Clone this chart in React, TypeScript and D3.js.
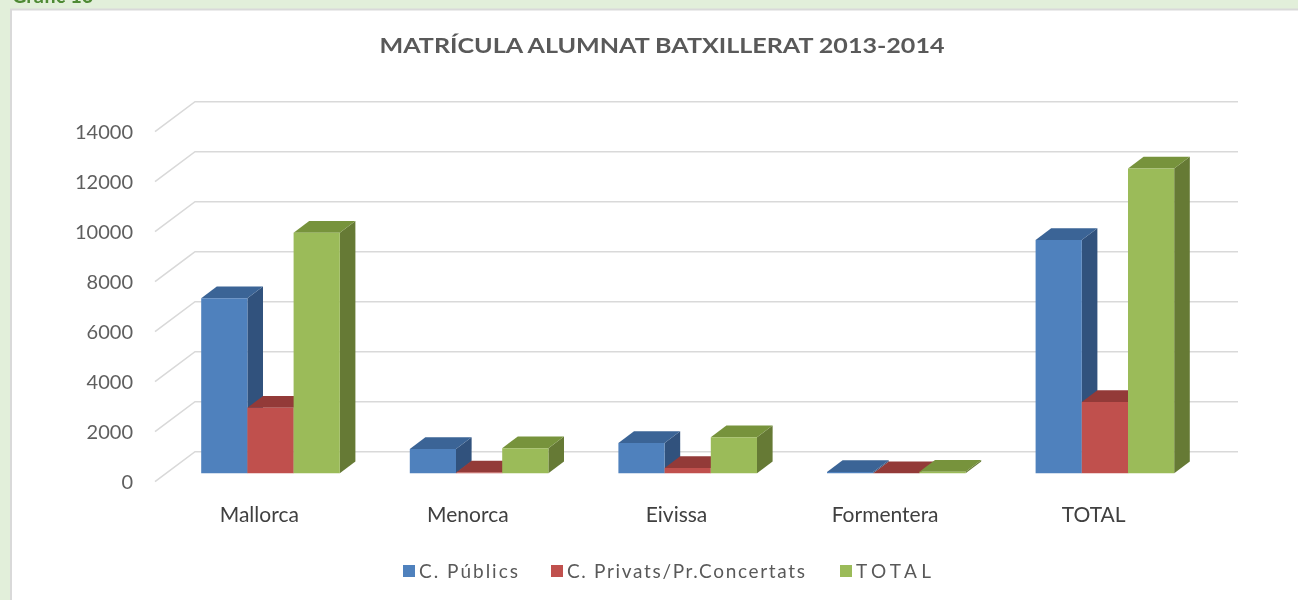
import React, { useEffect, useRef } from 'react';
import * as d3 from 'd3';

const categories = ['Mallorca', 'Menorca', 'Eivissa', 'Formentera', 'TOTAL'];
const seriesNames = ['C. Públics', 'C. Privats/Pr.Concertats', 'TOTAL'];
const publics = [7000, 975, 1215, 55, 9335];
const privats = [2625, 30, 210, 5, 2855];
const totals = [9625, 1005, 1440, 60, 12190];
const yTicks = [0, 2000, 4000, 6000, 8000, 10000, 12000, 14000];

const title = 'MATRÍCULA ALUMNAT BATXILLERAT 2013-2014';

// front, top, side
const palette = [
  ['#4f81bd', '#3b6496', '#31527d'],
  ['#c0504d', '#933a38', '#85322f'],
  ['#9bbb59', '#77933c', '#667a35'],
];

const App = () => {
  const chart = useRef<SVGSVGElement>(null);

  useEffect(() => {
    const width = 1298;
    const height = 600;
    const svg = d3.select(chart.current);
    svg.selectAll('*').remove();

    svg.append('rect').attr('width', width).attr('height', height).attr('fill', '#e2efda');
    svg
      .append('text')
      .attr('x', 12)
      .attr('y', 3)
      .text('Gràfic 16')
      .style('font-family', 'Lato')
      .style('font-size', 20)
      .style('font-weight', 'bold')
      .attr('fill', '#4e8a34');
    svg
      .append('rect')
      .attr('x', 11)
      .attr('y', 9.5)
      .attr('width', width)
      .attr('height', height)
      .attr('fill', '#fff')
      .attr('stroke', '#d9d9d9')
      .attr('stroke-width', 2);

    // 3d layout: front plane + depth vector
    const x0 = 155;
    const x1 = 1198;
    const DX = 40;
    const DY = -30;
    const t0 = 0.28;
    const t1 = 0.67;

    const y = d3.scaleLinear().domain([0, 14000]).range([481.7, 131.7]);
    const xBand = d3.scaleBand().domain(categories).range([x0, x1]);
    const xInner = d3
      .scaleBand()
      .domain(seriesNames)
      .range([35, xBand.bandwidth() - 35]);

    const proj = (px, v, t) => [px + DX * t, y(v) + DY * t];
    const line = d3.line();

    // gridlines
    svg
      .append('g')
      .selectAll('path')
      .data(yTicks)
      .enter()
      .append('path')
      .attr('d', (v) => line([proj(x0, v, 0), proj(x0, v, 1), proj(x1, v, 1)]))
      .attr('fill', 'none')
      .attr('stroke', '#d9d9d9')
      .attr('stroke-width', 1.6);

    svg
      .append('g')
      .selectAll('text')
      .data(yTicks)
      .enter()
      .append('text')
      .attr('x', 133)
      .attr('y', (v) => y(v))
      .attr('dy', '0.35em')
      .attr('text-anchor', 'end')
      .text((v) => v)
      .style('font-family', 'Lato')
      .style('font-size', 20)
      .attr('fill', '#5f5f5f');

    // bars, drawn left to right
    const values = [publics, privats, totals];
    const bars = [];
    categories.forEach((c, i) => {
      seriesNames.forEach((s, j) => {
        bars.push({ xl: xBand(c) + xInner(s), xr: xBand(c) + xInner(s) + xInner.bandwidth(), v: values[j][i], j });
      });
    });
    const poly = (pts) => line(pts) + 'Z';
    const gb = svg.append('g');
    bars.forEach((b) => {
      const g = gb.append('g');
      g.append('path')
        .attr('d', poly([proj(b.xr, 0, t0), proj(b.xr, 0, t1), proj(b.xr, b.v, t1), proj(b.xr, b.v, t0)]))
        .attr('fill', palette[b.j][2]);
      g.append('path')
        .attr('d', poly([proj(b.xl, b.v, t0), proj(b.xr, b.v, t0), proj(b.xr, b.v, t1), proj(b.xl, b.v, t1)]))
        .attr('fill', palette[b.j][1]);
      g.append('path')
        .attr('d', poly([proj(b.xl, 0, t0), proj(b.xr, 0, t0), proj(b.xr, b.v, t0), proj(b.xl, b.v, t0)]))
        .attr('fill', palette[b.j][0]);
    });

    svg
      .append('g')
      .selectAll('text')
      .data(categories)
      .enter()
      .append('text')
      .attr('x', (c) => xBand(c) + xBand.bandwidth() / 2)
      .attr('y', 515)
      .attr('dy', '0.35em')
      .attr('text-anchor', 'middle')
      .text((c) => c)
      .style('font-family', 'Lato')
      .style('font-size', 21)
      .attr('fill', '#404040');

    svg
      .append('text')
      .attr('x', 662)
      .attr('y', 46)
      .attr('dy', '0.35em')
      .attr('text-anchor', 'middle')
      .attr('textLength', 565)
      .attr('lengthAdjust', 'spacingAndGlyphs')
      .text(title)
      .style('font-family', 'Lato')
      .style('font-size', 20)
      .style('font-weight', 'bold')
      .attr('fill', '#595959');

    // legend
    const legendX = [403, 551, 840];
    const legendW = [99, 238, 75];
    const lg = svg
      .append('g')
      .selectAll('g')
      .data(seriesNames)
      .enter()
      .append('g')
      .attr('transform', (d, i) => `translate(${legendX[i]}, 571)`);
    lg.append('rect')
      .attr('y', -6)
      .attr('width', 12)
      .attr('height', 12)
      .attr('fill', (d, i) => palette[i][0]);
    lg.append('text')
      .attr('x', 16)
      .attr('dy', '0.35em')
      .attr('textLength', (d, i) => legendW[i])
      .text((d) => d)
      .style('font-family', 'Lato')
      .style('font-size', 19)
      .attr('fill', '#595959');
  }, []);

  return (
    <svg
      ref={chart}
      width={1298}
      height={600}
      style={{ position: 'fixed', left: 0, top: 0, display: 'block' }}
    />
  );
};

export default App;
